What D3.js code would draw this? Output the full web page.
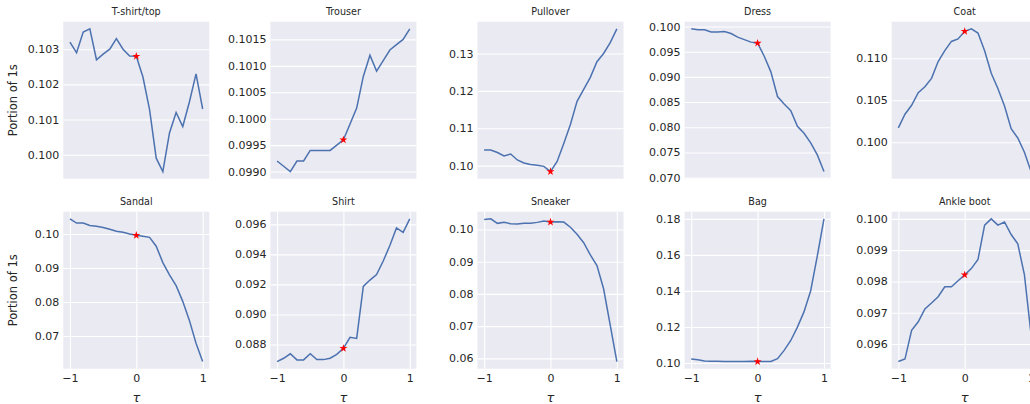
<!DOCTYPE html>
<html>
<head>
<meta charset="utf-8">
<script src="https://cdn.jsdelivr.net/npm/d3@7"></script>
<style>
  body { margin: 0; background: #fff; }
  text { font-family: 'DejaVu Sans', sans-serif; fill: #262626; }
</style>
</head>
<body>
<svg id="plotarea"></svg>
<script>
// tau values along x
const tau = [-1.0, -0.9, -0.8, -0.7, -0.6, -0.5, -0.4, -0.3, -0.2, -0.1, 0.0,
             0.1, 0.2, 0.3, 0.4, 0.5, 0.6, 0.7, 0.8, 0.9, 1.0];

const classNames = ['T-shirt/top', 'Trouser', 'Pullover', 'Dress', 'Coat',
                    'Sandal', 'Shirt', 'Sneaker', 'Bag', 'Ankle boot'];

// portion of 1s per class
const tshirt = [0.1032, 0.1029, 0.10349, 0.10358, 0.1027, 0.10286, 0.1030, 0.1033, 0.1030, 0.10281, 0.1028,
                0.10221, 0.10128, 0.0999, 0.09952, 0.10062, 0.1012, 0.1008, 0.1015, 0.1023, 0.1013];
const trouser = [0.09920, 0.09910, 0.0990, 0.0992, 0.0992, 0.0994, 0.0994, 0.0994, 0.0994, 0.0995, 0.0996,
                 0.0999, 0.1002, 0.1008, 0.1012, 0.1009, 0.1011, 0.1013, 0.1014, 0.1015, 0.1017];
const pullover = [0.10415, 0.10415, 0.1035, 0.1026, 0.1031, 0.1015, 0.1007, 0.1003, 0.1001, 0.0998, 0.0984,
                  0.1011, 0.1059, 0.1110, 0.1172, 0.1204, 0.1236, 0.1278, 0.1300, 0.1329, 0.1366];
const dress = [0.09954, 0.09934, 0.09934, 0.0989, 0.0989, 0.0990, 0.0986, 0.0979, 0.0974, 0.0969, 0.0967,
               0.0941, 0.0910, 0.0861, 0.0846, 0.0833, 0.0802, 0.0788, 0.0769, 0.0745, 0.0712];
const coat = [0.10171, 0.10333, 0.1044, 0.1059, 0.1066, 0.1076, 0.1096, 0.1109, 0.1120, 0.1123, 0.1132,
              0.1135, 0.1130, 0.1109, 0.1082, 0.1064, 0.1043, 0.1016, 0.1005, 0.0988, 0.0965];
const sandal = [0.10445, 0.1032, 0.1032, 0.1025, 0.1023, 0.1019, 0.1014, 0.1008, 0.1005, 0.1000, 0.0996,
                0.0993, 0.0990, 0.0964, 0.0916, 0.0880, 0.0848, 0.0802, 0.0746, 0.0679, 0.0625];
const shirt = [0.08686, 0.08708, 0.08738, 0.08697, 0.08697, 0.08738, 0.08699, 0.08699, 0.08708, 0.08734, 0.08774,
               0.08848, 0.0884, 0.09187, 0.09229, 0.09266, 0.09356, 0.09459, 0.09576, 0.09547, 0.09637];
const sneaker = [0.1031, 0.1033, 0.1019, 0.1022, 0.1018, 0.1017, 0.1019, 0.1019, 0.1022, 0.1026, 0.1023,
                 0.1024, 0.1023, 0.1007, 0.0985, 0.0959, 0.0921, 0.0888, 0.0816, 0.0703, 0.0590];
const bag = [0.1022, 0.1018, 0.1011, 0.1010, 0.1010, 0.1009, 0.1009, 0.1009, 0.1009, 0.1010, 0.1008,
             0.1009, 0.1009, 0.1024, 0.1070, 0.1125, 0.1199, 0.1285, 0.1401, 0.1594, 0.1800];
const ankleBoot = [0.09544, 0.09552, 0.09644, 0.09671, 0.09712, 0.09731, 0.09751, 0.09783, 0.09783, 0.09802, 0.09821,
                   0.09841, 0.09870, 0.09980, 0.10000, 0.09980, 0.09990, 0.09950, 0.09920, 0.09821, 0.0963];

// y ticks per panel
const tshirtTicks = [0.100, 0.101, 0.102, 0.103];
const trouserTicks = [0.0990, 0.0995, 0.1000, 0.1005, 0.1010, 0.1015];
const pulloverTicks = [0.10, 0.11, 0.12, 0.13];
const dressTicks = [0.070, 0.075, 0.080, 0.085, 0.090, 0.095, 0.100];
const coatTicks = [0.100, 0.105, 0.110];
const sandalTicks = [0.07, 0.08, 0.09, 0.10];
const shirtTicks = [0.088, 0.090, 0.092, 0.094, 0.096];
const sneakerTicks = [0.06, 0.07, 0.08, 0.09, 0.10];
const bagTicks = [0.10, 0.12, 0.14, 0.16, 0.18];
const ankleBootTicks = [0.096, 0.097, 0.098, 0.099, 0.100];
const tickFormats = ['.3f', '.4f', '.2f', '.3f', '.3f', '.2f', '.3f', '.2f', '.2f', '.3f'];

const xTicks = [-1, 0, 1];

const series = [tshirt, trouser, pullover, dress, coat, sandal, shirt, sneaker, bag, ankleBoot];
const yTicksAll = [tshirtTicks, trouserTicks, pulloverTicks, dressTicks, coatTicks,
                   sandalTicks, shirtTicks, sneakerTicks, bagTicks, ankleBootTicks];

const dims = { width: 146, height: 157 };
const layout = { left: 63.3, pitch: 207.1, rowTops: [21.7, 211.7] };

var svg = d3.select('#plotarea')
            .attr('width', 1030)
            .attr('height', 404);

series.forEach(function(vals, i) {
    var row = Math.floor(i / 5), col = i % 5;
    var g = svg.append('g')
               .attr('transform', `translate(${layout.left + col * layout.pitch}, ${layout.rowTops[row]})`);

    var x = d3.scaleLinear().domain([-1.1, 1.1]).range([0, dims.width]);
    var ext = d3.extent(vals);
    var pad = (ext[1] - ext[0]) * 0.05;
    var y = d3.scaleLinear().domain([ext[0] - pad, ext[1] + pad]).range([dims.height, 0]);

    g.append('rect')
     .attr('width', dims.width)
     .attr('height', dims.height)
     .attr('fill', '#eaeaf2');

    // horizontal grid + y tick labels
    var yAxis = g.append('g')
                 .call(d3.axisLeft(y).tickValues(yTicksAll[i])
                         .tickFormat(d3.format(tickFormats[i]))
                         .tickSize(-dims.width).tickPadding(4));
    yAxis.select('.domain').remove();
    yAxis.selectAll('line').attr('stroke', '#fff').attr('stroke-width', 1.1);
    yAxis.selectAll('text').attr('font-size', 11).attr('fill', '#262626');

    if (row === 1) {
        var xAxis = g.append('g')
                     .attr('transform', `translate(0, ${dims.height})`)
                     .call(d3.axisBottom(x).tickValues(xTicks)
                             .tickFormat(d3.format('d'))
                             .tickSize(-dims.height).tickPadding(6));
        xAxis.select('.domain').remove();
        xAxis.selectAll('line').attr('stroke', '#fff').attr('stroke-width', 1.1);
        xAxis.selectAll('text').attr('font-size', 11).attr('fill', '#262626');

        g.append('text')
         .attr('x', dims.width / 2)
         .attr('y', dims.height + 33)
         .style('text-anchor', 'middle')
         .style('font-style', 'italic')
         .attr('font-size', 13)
         .text('τ');
    }

    var valueline = d3.line()
                      .x(function(d, j) { return x(tau[j]); })
                      .y(function(d) { return y(d); });

    g.append('path')
     .attr('d', valueline(vals))
     .attr('fill', 'none')
     .attr('stroke', '#4c72b0')
     .attr('stroke-width', 1.5);

    // red star at tau = 0
    var k = tau.indexOf(0);
    g.append('path')
     .attr('d', d3.symbol().type(d3.symbolStar).size(20)())
     .attr('transform', `translate(${x(tau[k])}, ${y(vals[k])})`)
     .attr('fill', 'red');

    // Title
    g.append('text')
     .attr('x', dims.width / 2)
     .attr('y', -6.5)
     .style('text-anchor', 'middle')
     .attr('font-size', 9.6)
     .text(classNames[i]);

    if (col === 0) {
        g.append('text')
         .attr('transform', 'rotate(-90)')
         .attr('x', -dims.height / 2)
         .attr('y', 16.5 - layout.left)
         .style('text-anchor', 'middle')
         .attr('font-size', 11.5)
         .text('Portion of 1s');
    }
});
</script>
</body>
</html>
